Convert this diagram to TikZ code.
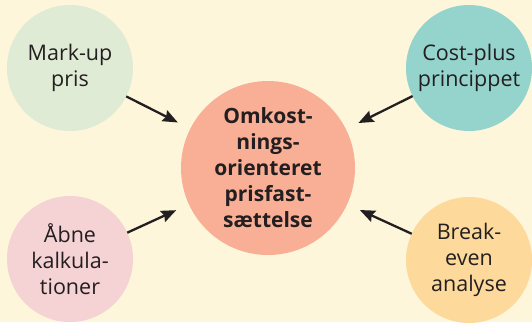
\documentclass[tikz,border=0pt]{standalone}
\usepackage{fontspec}
\setmainfont{Open Sans}
\usetikzlibrary{arrows.meta}
\definecolor{bgcream}{HTML}{FDF6DA}
\definecolor{cgreen}{HTML}{E0EBD5}
\definecolor{cteal}{HTML}{94D4CC}
\definecolor{cpink}{HTML}{F5D2D4}
\definecolor{corange}{HTML}{FDDA9B}
\definecolor{csalmon}{HTML}{F8AF96}
\definecolor{ink}{HTML}{231F20}
\tikzset{
  bubble/.style={circle, minimum size=126pt, inner sep=0pt, outer sep=0pt,
    text=ink, align=center, font=\fontsize{21.5}{26}\selectfont},
  hub/.style={circle, minimum size=174pt, inner sep=0pt, outer sep=0pt,
    fill=csalmon, text=ink, align=center,
    font=\fontsize{21}{26}\selectfont\bfseries},
  feed/.style={draw=ink, line width=2.3pt,
    -{Stealth[length=15pt,width=12pt,inset=2pt]}, shorten >=14pt}
}
\begin{document}
\begin{tikzpicture}[x=1pt, y=-1pt]
  \clip (0,0) rectangle (532,322);
  \fill[bgcream] (0,0) rectangle (532,322);

  \node[hub] (c) at (268,168) {Omkost-\\nings-\\orienteret\\prisfast-\\sættelse};

  \node[bubble, fill=cgreen]  (tl) at (70,68)   {Mark-up\\pris};
  \node[bubble, fill=cteal]   (tr) at (469,68)  {Cost-plus\\princippet};
  \node[bubble, fill=cpink]   (bl) at (70,259)  {Åbne\\kalkula-\\tioner};
  \node[bubble, fill=corange] (br) at (469,260) {Break-\\even\\analyse};

  \draw[feed] (tl) -- (c);
  \draw[feed] (tr) -- (c);
  \draw[feed] (bl) -- (c);
  \draw[feed] (br) -- (c);
\end{tikzpicture}
\end{document}
